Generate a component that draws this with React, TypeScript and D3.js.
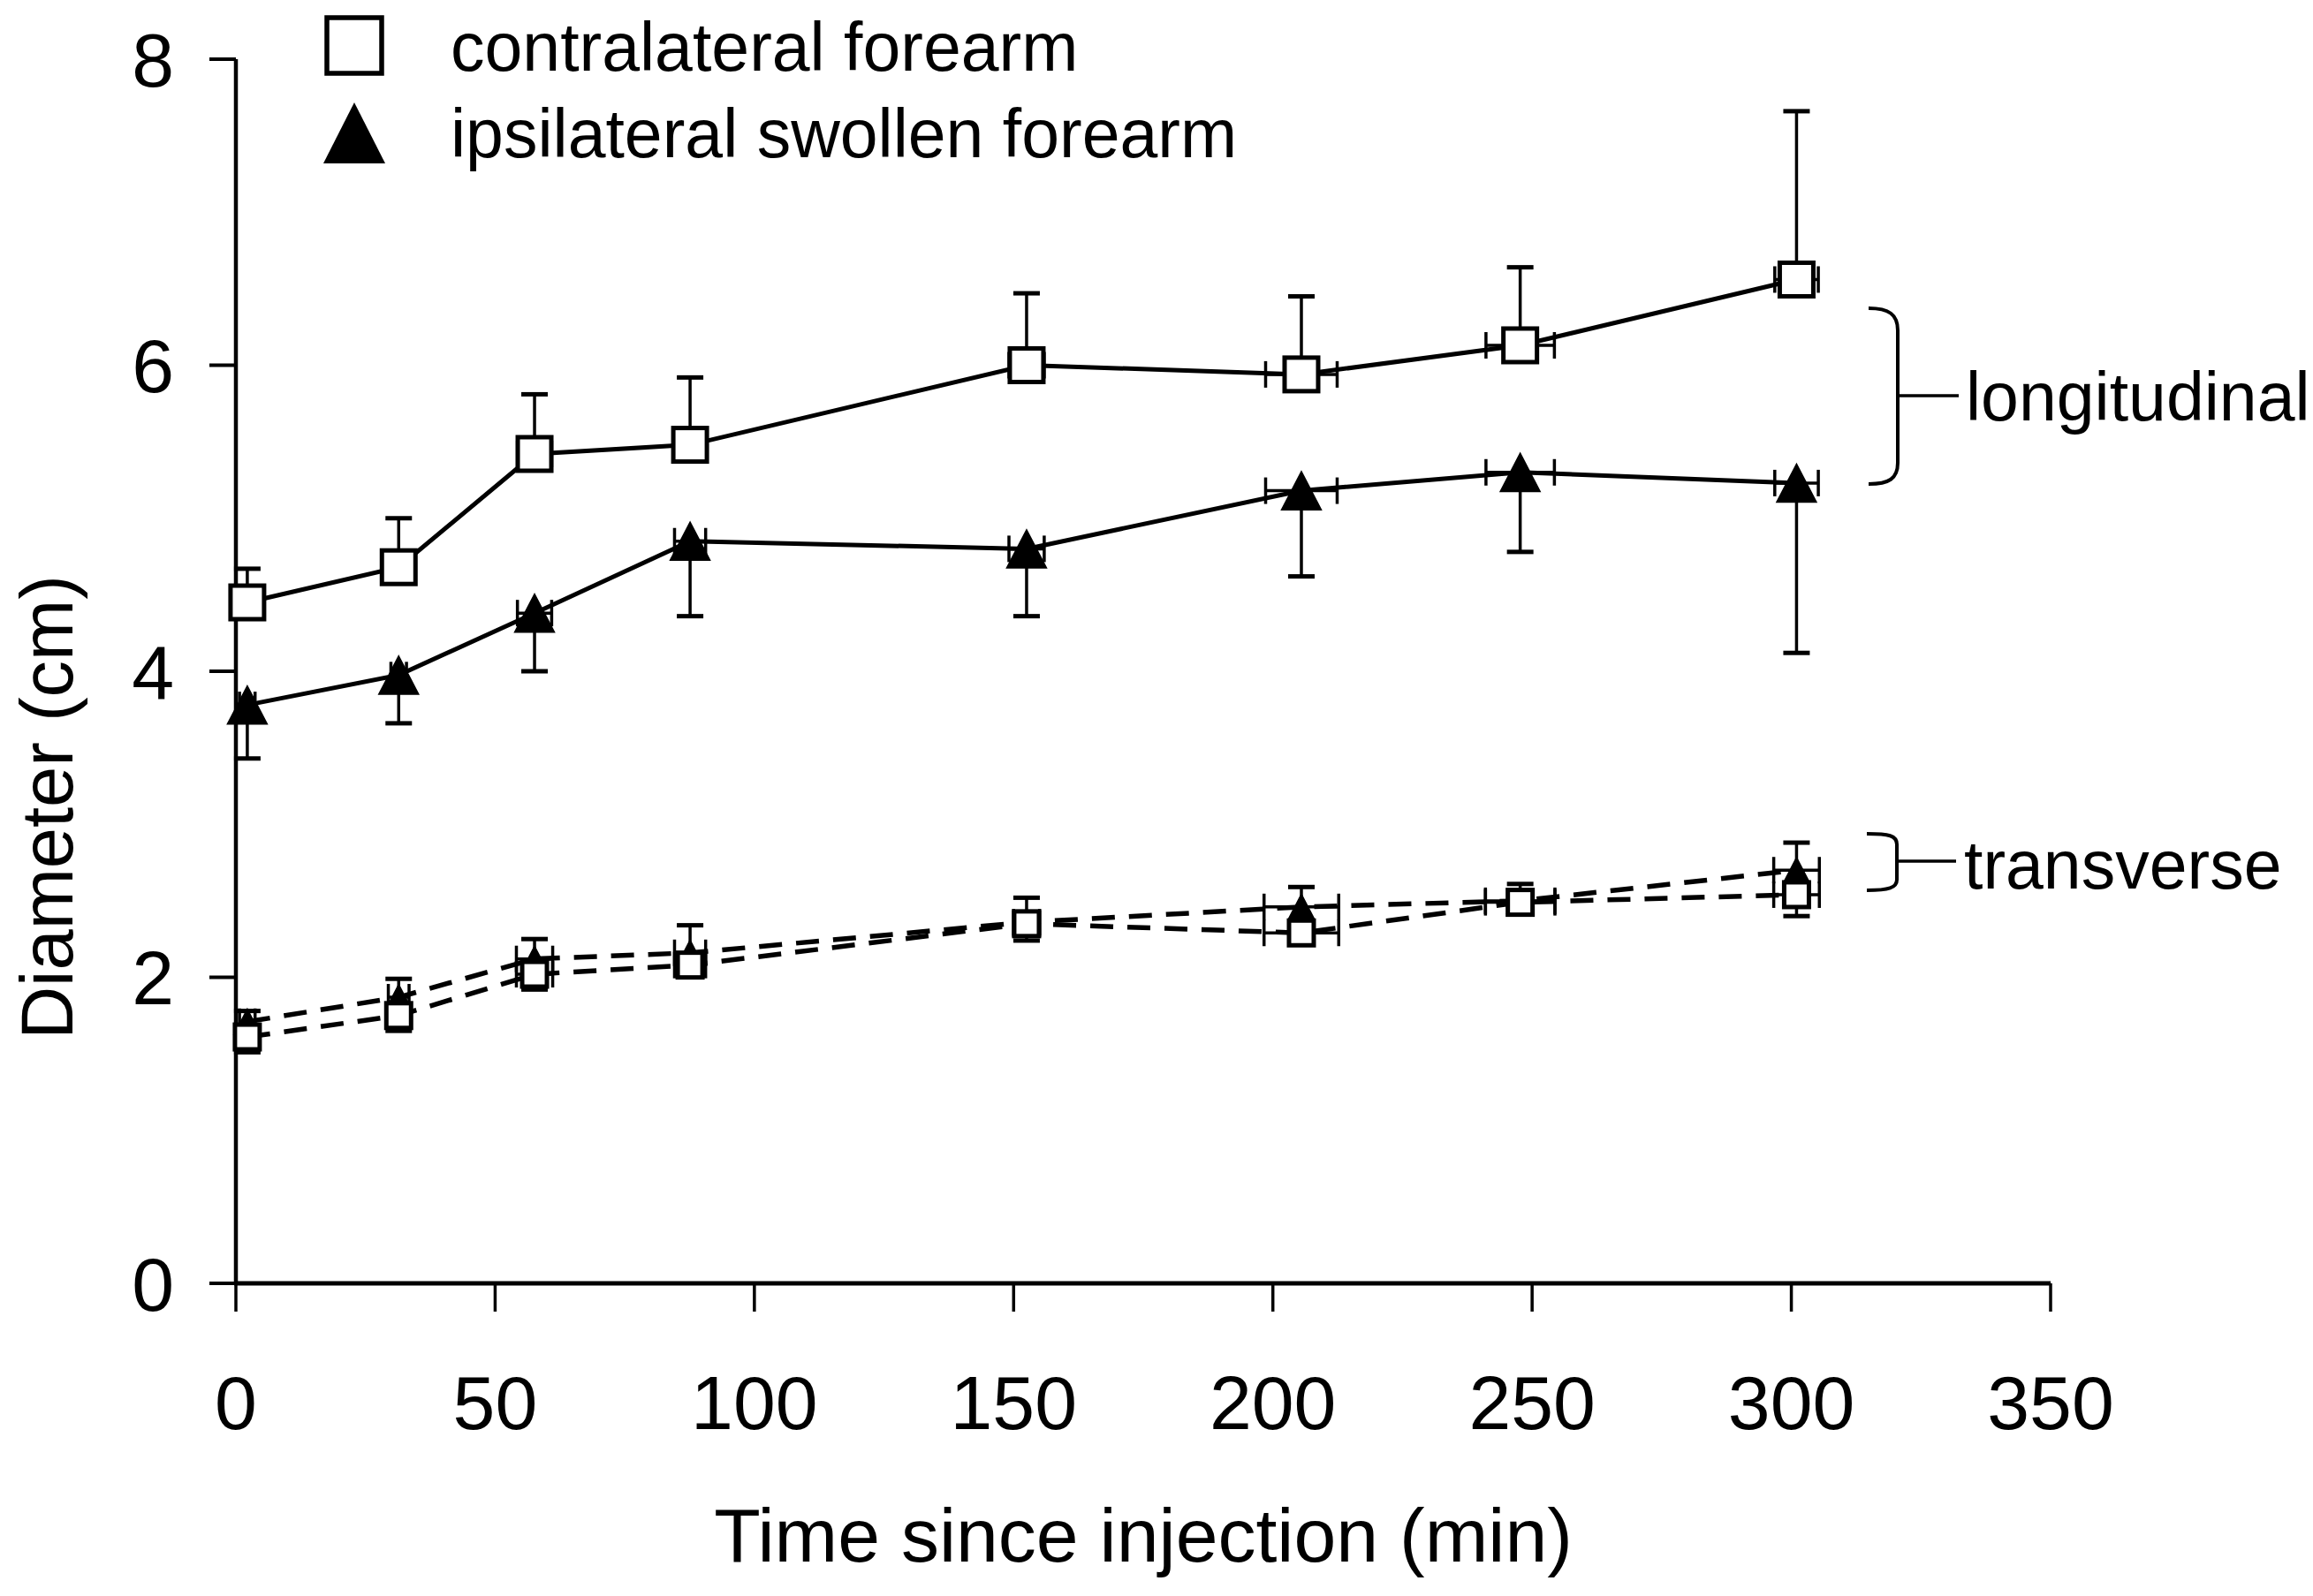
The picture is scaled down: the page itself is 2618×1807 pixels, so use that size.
import React from "react";
import * as d3 from "d3";

// ---- data ----
const times = [2.2, 31.4, 57.6, 87.6, 152.5, 205.5, 247.7, 301];
const longTimeErr = [1.5, 1.5, 3.3, 3.0, 3.4, 6.9, 6.6, 4.2];
const transTimeErr = [1.5, 2.0, 3.5, 3.0, 2.5, 7.2, 6.7, 4.4];

const contraLong = [4.45, 4.68, 5.42, 5.48, 6.0, 5.94, 6.13, 6.56];
const contraLongErr = [0.22, 0.32, 0.39, 0.44, 0.47, 0.51, 0.51, 1.1];
const ipsiLong = [3.78, 3.975, 4.38, 4.85, 4.8, 5.18, 5.3, 5.23];
const ipsiLongErr = [0.35, 0.315, 0.38, 0.49, 0.44, 0.56, 0.52, 1.11];

const contraTrans = [1.61, 1.75, 2.02, 2.08, 2.35, 2.29, 2.49, 2.54];
const contraTransErr = [0.1, 0.1, 0.1, 0.06, 0.11, 0.07, 0.06, 0.14];
const ipsiTrans = [1.71, 1.87, 2.12, 2.16, 2.36, 2.46, 2.5, 2.7];
const ipsiTransErr = [0.07, 0.12, 0.13, 0.18, 0.16, 0.13, 0.11, 0.18];

const xTicks = [0, 50, 100, 150, 200, 250, 300, 350];
const yTicks = [0, 2, 4, 6, 8];
const legendLabels = ["contralateral forearm", "ipsilateral swollen forearm"];
const xTitle = "Time since injection (min)";
const yTitle = "Diameter (cm)";

const W = 2618;
const H = 1807;
const FONT = "'Liberation Sans', Arial, Helvetica, sans-serif";

const x = d3.scaleLinear().domain([0, 350]).range([267, 2321]);
const y = d3.scaleLinear().domain([0, 8]).range([1453, 67]);

type Series = {
  values: number[];
  err: number[];
  xErr: number[];
  dir: 1 | -1;
  marker: "square" | "triangle";
  size: number;
  dashed: boolean;
};

const series: Series[] = [
  { values: ipsiTrans, err: ipsiTransErr, xErr: transTimeErr, dir: 1, marker: "triangle", size: 30, dashed: true },
  { values: contraTrans, err: contraTransErr, xErr: transTimeErr, dir: -1, marker: "square", size: 28, dashed: true },
  { values: ipsiLong, err: ipsiLongErr, xErr: longTimeErr, dir: -1, marker: "triangle", size: 45, dashed: false },
  { values: contraLong, err: contraLongErr, xErr: longTimeErr, dir: 1, marker: "square", size: 38, dashed: false },
];

const line = d3
  .line<number>()
  .x((_, i) => x(times[i]))
  .y((v) => y(v));

function Marker({ kind, cx, cy, size }: { kind: string; cx: number; cy: number; size: number }) {
  if (kind === "square") {
    const s = size;
    return (
      <rect x={cx - s / 2} y={cy - s / 2} width={s} height={s} fill="#fff" stroke="#000" strokeWidth={size > 40 ? 5.5 : 5} />
    );
  }
  const w = size;
  const h = size * 0.96;
  const p = `M${cx},${cy - h / 2} L${cx + w / 2},${cy + h / 2} L${cx - w / 2},${cy + h / 2} Z`;
  return <path d={p} fill="#000" stroke="#000" strokeWidth={1.5} />;
}

export default function App() {
  const cap = 15;
  return (
    <svg
      width={W}
      height={H}
      viewBox={`0 0 ${W} ${H}`}
      style={{ position: "absolute", left: 0, top: 0, display: "block", background: "#fff" }}
    >
      <rect width={W} height={H} fill="#fff" />

      {/* axes */}
      <line x1={x(0)} x2={x(0)} y1={y(8)} y2={y(0)} stroke="#000" strokeWidth={4.5} />
      <line x1={x(0) - 2} x2={x(350)} y1={y(0)} y2={y(0)} stroke="#000" strokeWidth={5} />
      {yTicks.map((t) => (
        <g key={"yt" + t}>
          <line x1={x(0) - 30} x2={x(0)} y1={y(t)} y2={y(t)} stroke="#000" strokeWidth={4} />
          <text x={197} y={y(t)} dy="0.36em" textAnchor="end" fontFamily={FONT} fontSize={86}>
            {t}
          </text>
        </g>
      ))}
      {xTicks.map((t) => (
        <g key={"xt" + t}>
          <line x1={x(t)} x2={x(t)} y1={y(0)} y2={y(0) + 32} stroke="#000" strokeWidth={3.5} />
          <text x={x(t)} y={1618} textAnchor="middle" fontFamily={FONT} fontSize={86}>
            {t}
          </text>
        </g>
      ))}
      <text x={(x(0) + x(350)) / 2} y={1768} textAnchor="middle" fontFamily={FONT} fontSize={86}>
        {xTitle}
      </text>
      <text transform={`translate(82, 914) rotate(-90)`} textAnchor="middle" fontFamily={FONT} fontSize={83}>
        {yTitle}
      </text>

      {/* series lines */}
      {series.map((s, si) => (
        <path
          key={"l" + si}
          d={line(s.values) || ""}
          fill="none"
          stroke="#000"
          strokeWidth={s.dashed ? 5.5 : 5}
          strokeDasharray={s.dashed ? "26 16" : undefined}
        />
      ))}

      {/* error bars + markers */}
      {series.map((s, si) => (
        <g key={"s" + si}>
          {s.values.map((v, i) => {
            const cx = x(times[i]);
            const cy = y(v);
            const ey = y(v + s.dir * s.err[i]);
            const xl = x(times[i] - s.xErr[i]);
            const xr = x(times[i] + s.xErr[i]);
            return (
              <g key={i}>
                <line x1={cx} x2={cx} y1={cy} y2={ey} stroke="#000" strokeWidth={3.5} />
                <line x1={cx - cap} x2={cx + cap} y1={ey} y2={ey} stroke="#000" strokeWidth={5} />
                <line x1={xl} x2={xr} y1={cy} y2={cy} stroke="#000" strokeWidth={3.5} />
                <line x1={xl} x2={xl} y1={cy - cap} y2={cy + cap} stroke="#000" strokeWidth={3.5} />
                <line x1={xr} x2={xr} y1={cy - cap} y2={cy + cap} stroke="#000" strokeWidth={3.5} />
              </g>
            );
          })}
          {s.values.map((v, i) => (
            <Marker key={"m" + i} kind={s.marker} cx={x(times[i])} cy={y(v)} size={s.size} />
          ))}
        </g>
      ))}

      {/* brackets */}
      <path
        d="M2115,349 C2138,349 2148,356 2148,374 L2148,524 C2148,542 2138,548 2115,548"
        fill="none"
        stroke="#000"
        strokeWidth={4}
      />
      <line x1={2148} x2={2217} y1={448} y2={448} stroke="#000" strokeWidth={3.5} />
      <text x={2225} y={476} fontFamily={FONT} fontSize={77}>
        longitudinal
      </text>
      <path
        d="M2113,944 C2138,944 2147,946 2147,956 L2147,996 C2147,1005 2138,1008 2113,1008"
        fill="none"
        stroke="#000"
        strokeWidth={4}
      />
      <line x1={2147} x2={2214} y1={975} y2={975} stroke="#000" strokeWidth={3.5} />
      <text x={2223} y={1006} fontFamily={FONT} fontSize={77}>
        transverse
      </text>

      {/* legend */}
      <rect x={370} y={20} width={62} height={63} fill="#fff" stroke="#000" strokeWidth={5.5} />
      <text x={510} y={80} fontFamily={FONT} fontSize={77}>
        {legendLabels[0]}
      </text>
      <path d="M401,116 L436,185 L366,185 Z" fill="#000" />
      <text x={510} y={178} fontFamily={FONT} fontSize={77}>
        {legendLabels[1]}
      </text>
    </svg>
  );
}
